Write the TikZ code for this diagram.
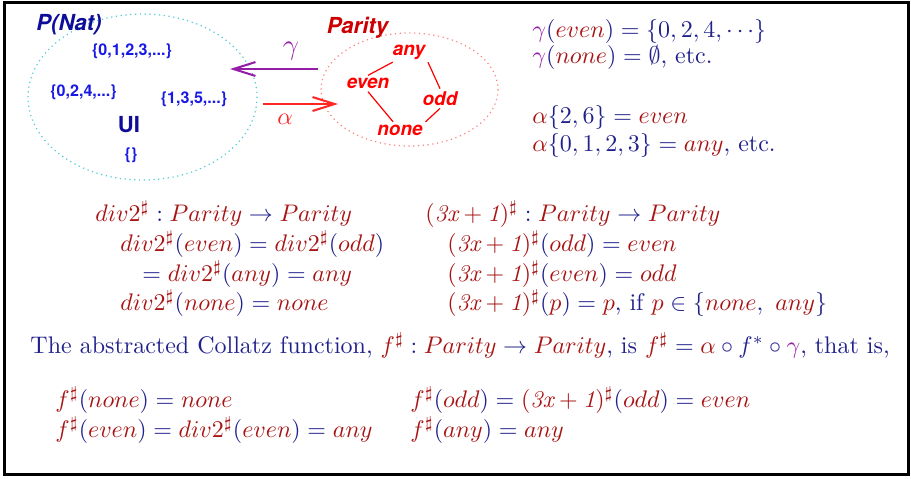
\documentclass[tikz,border=0pt]{standalone}
\usepackage{fontspec}
\usetikzlibrary{arrows.meta}
\newfontfamily\heros{TeX Gyre Heros}
\definecolor{navy}{rgb}{0.13,0.13,0.55}
\definecolor{dred}{rgb}{0.66,0.08,0.08}
\definecolor{gpurple}{rgb}{0.58,0.12,0.65}
\definecolor{setblue}{rgb}{0.1,0.1,0.9}
\definecolor{natblue}{rgb}{0.05,0.05,0.6}
\definecolor{latred}{rgb}{1,0,0}
\definecolor{arrred}{rgb}{1,0.15,0.15}
\definecolor{natdot}{rgb}{0.3,0.8,0.85}
\definecolor{pardot}{rgb}{1,0.5,0.5}
\newcommand{\rd}[1]{\textcolor{dred}{#1}}
\newcommand{\gm}{\textcolor{gpurple}{\gamma}}
\newcommand{\dvs}{\rd{div2^\sharp}}
\newcommand{\trs}{\rd{(\mathit{3x+1})^\sharp}}
\newcommand{\fsh}{\rd{f^\sharp}}
\begin{document}
\begin{tikzpicture}[x=0.41667pt,y=-0.41667pt,
  >={Straight Barb[length=9.2pt,width=5.8pt]},
  eq/.style={anchor=base west,inner sep=0pt,text=navy},
  setlbl/.style={text=setblue,font=\heros\bfseries\fontsize{6.7}{8}\selectfont},
  domtitle/.style={font=\heros\bfseries\itshape\fontsize{9.2}{11}\selectfont},
  latnode/.style={text=latred,inner sep=1pt,font=\heros\bfseries\itshape\fontsize{7.9}{9.5}\selectfont},
  latline/.style={latred,line width=0.5pt},
  dots/.style={line width=0.5pt,dash pattern=on 0.5pt off 1.5pt}]
\useasboundingbox (0,0) rectangle (911,478);
\draw[line width=1.25pt] (4.5,2.5) rectangle (908.5,474.5);

% concrete domain
\draw[dots,natdot] (142.5,97) ellipse (114.5 and 83);
\node[domtitle,text=natblue] (pnat) at (69,25) {P(Nat)};
\node[setlbl] (nat) at (132,51) {\{0,1,2,3,...\}};
\node[setlbl] (evens) at (83.5,92) {\{0,2,4,...\}};
\node[setlbl] (odds) at (194,99.5) {\{1,3,5,...\}};
\node[text=natblue,font=\heros\bfseries\fontsize{9.2}{11}\selectfont] (union) at (129,125) {UI};
\node[setlbl] (empty) at (131,155) {\{\}};

% abstract domain
\draw[dots,pardot] (409.5,89.5) ellipse (88.5 and 56.5);
\node[domtitle,text=red!80!black] (parity) at (357.5,28) {Parity};
\node[latnode] (any) at (409,52) {any};
\node[latnode] (even) at (368,83.5) {even};
\node[latnode] (odd) at (440,98.5) {odd};
\node[latnode] (none) at (400,130) {none};
\draw[latline] (any.212) -- (even.north);
\draw[latline] (any.south east) -- (odd.north);
\draw[latline] (even.south) -- (none.130);
\draw[latline] (odd.south) -- (none.north east);

% gamma and alpha
\coordinate (gfrom) at (318,69);
\coordinate (gto) at (230,69);
\coordinate (afrom) at (263,104);
\coordinate (ato) at (338,104);
\draw[->,gpurple,line width=0.85pt] (gfrom) -- (gto);
\draw[->,arrred,line width=0.85pt] (afrom) -- (ato);
\node[text=gpurple,font=\large] (glbl) at (291,51) {$\gamma$};
\node[text=arrred] (albl) at (285,119) {$\alpha$};

% examples
\node[eq] (gEven) at (532,37) {$\gm(\rd{even}) = \{0,2,4,\cdots\}$};
\node[eq] (gNone) at (532,63) {$\gm(\rd{none}) = \emptyset$, etc.};
\node[eq] (aEven) at (532,123) {$\rd{\alpha}\{2,6\} = \rd{even}$};
\node[eq] (aAny) at (532,151) {$\rd{\alpha}\{0,1,2,3\} = \rd{any}$, etc.};

% div2 and 3x+1
\node[eq] (divSig) at (95,221) {$\dvs : \rd{Parity} \rightarrow \rd{Parity}$};
\node[eq] (divEven) at (120,251) {$\dvs(\rd{even}) = \dvs(\rd{odd})$};
\node[eq] (divAny) at (142,281) {$= \dvs(\rd{any}) = \rd{any}$};
\node[eq] (divNone) at (120,310) {$\dvs(\rd{none}) = \rd{none}$};
\node[eq] (trSig) at (425,221) {$\trs : \rd{Parity} \rightarrow \rd{Parity}$};
\node[eq] (trOdd) at (447,251) {$\trs(\rd{odd}) = \rd{even}$};
\node[eq] (trEven) at (447,281) {$\trs(\rd{even}) = \rd{odd}$};
\node[eq] (trP) at (447,310) {$\trs(\rd{p}) = \rd{p}$,\ if $\rd{p} \in \{\rd{none},\ \rd{any}\}$};

% collatz
\node[eq] (collatz) at (30,353) {The abstracted Collatz function, $\fsh : \rd{Parity} \rightarrow \rd{Parity}$, is $\fsh = \rd{\alpha} \circ f^* \circ \gm$, that is,};
\node[eq] (fNone) at (55,407) {$\fsh(\rd{none}) = \rd{none}$};
\node[eq] (fEven) at (55,437) {$\fsh(\rd{even}) = \dvs(\rd{even}) = \rd{any}$};
\node[eq] (fOdd) at (410,407) {$\fsh(\rd{odd}) = \trs(\rd{odd}) = \rd{even}$};
\node[eq] (fAny) at (410,437) {$\fsh(\rd{any}) = \rd{any}$};
\end{tikzpicture}
\end{document}
